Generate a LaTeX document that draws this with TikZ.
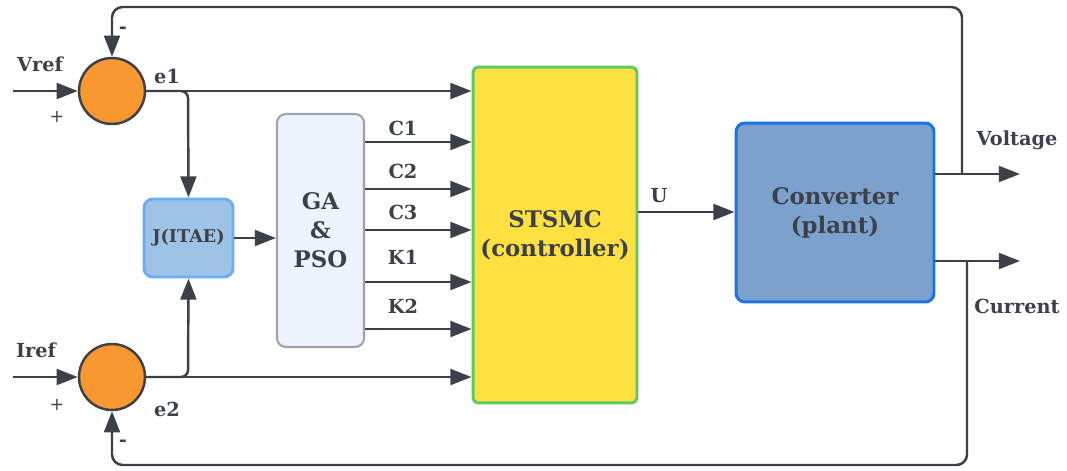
\documentclass[tikz,border=0pt]{standalone}
\usepackage{fontspec}
\setmainfont{DejaVu Serif}
\usetikzlibrary{arrows.meta}

\definecolor{linegray}{HTML}{3C4049}
\definecolor{sumorange}{HTML}{F99731}
\definecolor{jfill}{HTML}{9FC3E6}
\definecolor{jdraw}{HTML}{6AAEF7}
\definecolor{gafill}{HTML}{EDF4FD}
\definecolor{gadraw}{HTML}{9EA3AB}
\definecolor{ctrlfill}{HTML}{FEE140}
\definecolor{ctrldraw}{HTML}{5DC95F}
\definecolor{convfill}{HTML}{7BA1CC}
\definecolor{convdraw}{HTML}{1C73E4}

\begin{document}
\begin{tikzpicture}[x=0.02cm, y=-0.02cm,
	line width=1.4pt, draw=linegray, text=linegray, font=\bfseries,
	>={Triangle[length=12pt, width=9pt]},
	sumnode/.style={circle, draw=linegray, fill=sumorange, minimum size=1.32cm, inner sep=0pt},
	lbl/.style={font=\bfseries\fontsize{11}{13}\selectfont},
	biglbl/.style={font=\bfseries\fontsize{13}{16.5}\selectfont, align=center}]
	\useasboundingbox (0,0) rectangle (1067,470);

	\node at (112,91) [sumnode] (s1) {};
	\node at (112,377) [sumnode] (s2) {};
	\node at (188.5,238) [rectangle, rounded corners=5pt, draw=jdraw, fill=jfill, line width=1.7pt, minimum width=1.78cm, minimum height=1.56cm, inner sep=1pt, font=\bfseries\fontsize{10}{12}\selectfont] (jbox) {J(ITAE)};
	\node at (320.5,230.5) [rectangle, rounded corners=5pt, draw=gadraw, fill=gafill, line width=1.2pt, minimum width=1.74cm, minimum height=4.66cm, biglbl] (ga) {GA\\\&\\PSO};
	\node at (555,235) [rectangle, rounded corners=3pt, draw=ctrldraw, fill=ctrlfill, line width=1.7pt, minimum width=3.28cm, minimum height=6.72cm, biglbl] (ctrl) {STSMC\\(controller)};
	\node at (835,212.5) [rectangle, rounded corners=5pt, draw=convdraw, fill=convfill, line width=1.7pt, minimum width=3.96cm, minimum height=3.58cm, biglbl] (conv) {Converter\\(plant)};

	\coordinate (vin) at (13,91);
	\coordinate (iin) at (13,377);
	\coordinate (b1) at (188,91);
	\coordinate (b2) at (188,377);
	\coordinate (vend) at (1020,174);
	\coordinate (iend) at (1020,261);
	\coordinate (vtap) at (962,174);
	\coordinate (itap) at (967,261);

	% inputs and errors
	\draw [->] (vin) -- (s1.west);
	\draw [->] (iin) -- (s2.west);
	\draw [->] (s1.east) -- (s1.east -| ctrl.west);
	\draw [->] (s2.east) -- (s2.east -| ctrl.west);
	\draw [->, rounded corners=4pt] (s1.east) -- (b1) -- (jbox.north);
	\draw [->, rounded corners=4pt] (s2.east) -- (b2) -- (jbox.south);
	\draw [->] (jbox.east) -- (jbox.east -| ga.west);

	% gains
	\foreach \y/\ly/\lab in {142/128/C1, 189/171/C2, 230/212/C3, 282/257/K1, 329/306/K2}{
		\draw [->] (ga.east |- 0,\y) -- (ctrl.west |- 0,\y);
		\node at (403,\ly) [lbl] {\lab};
	}

	\draw [->] (ctrl.east |- 0,212) -- (conv.west |- 0,212);
	\draw [->] (conv.east |- vend) -- (vend);
	\draw [->] (conv.east |- iend) -- (iend);

	% feedback
	\draw [->, rounded corners=6pt] (vtap) -- (962,7) -- (112,7) -- (s1.north);
	\draw [->, rounded corners=6pt] (itap) -- (967,465) -- (112,465) -- (s2.south);

	\node at (40,64) [lbl] (vref) {Vref};
	\node at (36,350) [lbl] (iref) {Iref};
	\node at (57,117) [lbl, font=\fontsize{10}{12}\selectfont] (p1) {+};
	\node at (57,405) [lbl, font=\fontsize{10}{12}\selectfont] (p2) {+};
	\node at (123,30) [lbl] (m1) {-};
	\node at (123,443) [lbl] (m2) {-};
	\node at (167,76) [lbl] (e1) {e1};
	\node at (167,409) [lbl] (e2) {e2};
	\node at (659,196) [lbl] (u) {U};
	\node at (1017,140) [lbl] (volt) {Voltage};
	\node at (1017,306) [lbl] (curr) {Current};
\end{tikzpicture}
\end{document}
